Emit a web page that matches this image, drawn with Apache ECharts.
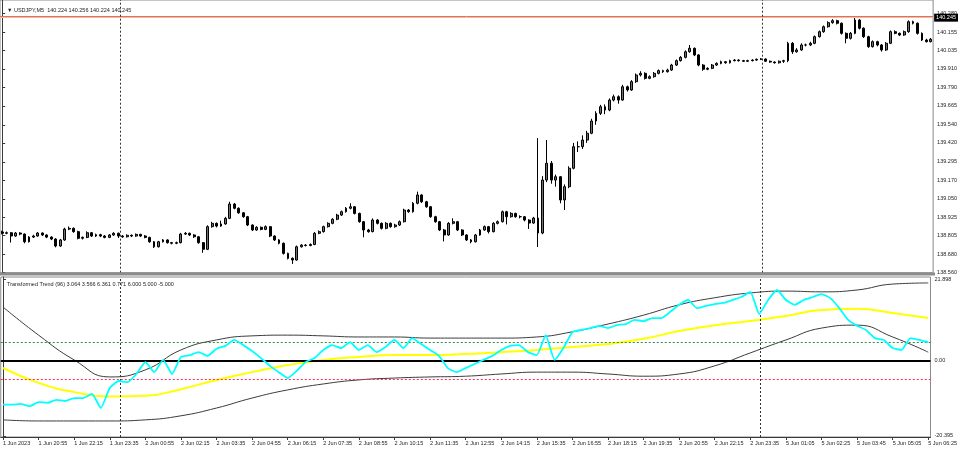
<!DOCTYPE html>
<html><head><meta charset="utf-8">
<script src="https://cdn.jsdelivr.net/npm/echarts@6/dist/echarts.min.js"></script>
<style>html,body{margin:0;padding:0;background:#fff}#c{width:960px;height:451px}</style>
</head><body><div id="c"></div>
<script>
// ---- price axis tick labels (MT4 style) ----
const priceTicks = [138.560,138.680,138.805,138.925,139.050,139.170,139.295,139.420,139.540,139.665,139.790,139.910,140.035,140.155,140.280];
// ---- time axis labels, one every 8 bars ----
const xTickLabels = ['1 Jun 2023','1 Jun 20:55','1 Jun 22:15','1 Jun 23:35','2 Jun 00:55','2 Jun 02:15','2 Jun 03:35','2 Jun 04:55','2 Jun 06:15','2 Jun 07:35','2 Jun 08:55','2 Jun 10:15','2 Jun 11:35','2 Jun 12:55','2 Jun 14:15','2 Jun 15:35','2 Jun 16:55','2 Jun 18:15','2 Jun 19:35','2 Jun 20:55','2 Jun 22:15','2 Jun 23:35','5 Jun 01:05','5 Jun 02:25','5 Jun 03:45','5 Jun 05:05','5 Jun 06:25'];
const BARS_PER_LABEL = 8;
// ---- USDJPY candles ----
const open = [
138.830,138.821,138.825,138.803,138.823,138.816,138.765,138.796,138.803,138.823,
138.810,138.796,138.783,138.737,138.777,138.849,138.854,138.832,138.788,138.794,
138.825,138.803,138.812,138.803,138.794,138.810,138.821,138.803,138.798,138.808,
138.803,138.814,138.803,138.794,138.765,138.732,138.765,138.777,138.759,138.755,
138.759,138.816,138.821,138.810,138.798,138.759,138.715,138.865,138.887,138.869,
138.883,138.920,139.015,138.987,138.957,138.931,138.876,138.843,138.861,138.847,
138.865,138.803,138.777,138.755,138.688,138.655,138.644,138.732,138.743,138.740,
138.747,138.821,138.832,138.865,138.887,138.914,138.942,138.964,138.987,138.997,
138.953,138.898,138.843,138.832,138.909,138.887,138.854,138.887,138.865,138.876,
138.898,138.975,138.964,139.020,139.075,139.030,138.997,138.931,138.898,138.843,
138.810,138.887,138.898,138.843,138.810,138.777,138.765,138.810,138.843,138.865,
138.832,138.887,138.898,138.964,138.931,138.953,138.931,138.931,138.909,138.889,
138.922,138.823,139.174,139.285,139.174,139.196,139.042,139.130,139.252,139.395,
139.395,139.439,139.484,139.565,139.616,139.660,139.638,139.704,139.726,139.704,
139.792,139.771,139.826,139.870,139.881,139.848,139.859,139.881,139.899,139.892,
139.903,139.936,139.965,139.987,140.024,140.047,140.003,139.936,139.908,139.914,
139.936,139.947,139.958,139.951,139.965,139.969,139.965,139.961,139.965,139.969,
139.974,139.976,139.961,139.956,139.951,139.961,139.965,140.080,140.024,140.036,
140.069,140.069,140.080,140.124,140.157,140.190,140.217,140.230,140.213,140.146,
140.113,140.146,140.234,140.180,140.124,140.058,140.091,140.069,140.036,140.080,
140.157,140.146,140.135,140.157,140.223,140.213,140.146,140.102,140.091];
const high = [
138.838,138.833,138.829,138.830,138.828,138.820,138.802,138.811,138.829,138.827,
138.815,138.801,138.788,138.784,138.858,138.866,138.860,138.838,138.800,138.834,
138.830,138.819,138.818,138.809,138.816,138.828,138.826,138.809,138.814,138.813,
138.820,138.818,138.809,138.798,138.770,138.771,138.783,138.781,138.764,138.766,
138.824,138.829,138.826,138.815,138.802,138.763,138.874,138.897,138.893,138.905,
138.930,139.030,139.022,138.993,138.962,138.936,138.880,138.868,138.866,138.873,
138.869,138.808,138.782,138.760,138.693,138.662,138.740,138.750,138.749,138.754,
138.829,138.840,138.872,138.894,138.921,138.950,138.972,138.995,139.020,139.002,
138.958,138.903,138.850,138.920,138.915,138.893,138.895,138.893,138.884,138.906,
138.984,138.982,139.028,139.097,139.080,139.036,139.002,138.937,138.903,138.850,
138.895,138.920,138.903,138.848,138.815,138.783,138.817,138.850,138.873,138.870,
138.895,138.906,138.972,138.970,138.961,138.958,138.940,138.936,138.914,138.930,
139.452,139.200,139.439,139.300,139.210,139.200,139.145,139.265,139.420,139.430,
139.470,139.500,139.580,139.630,139.672,139.675,139.715,139.740,139.735,139.805,
139.800,139.836,139.880,139.895,139.888,139.868,139.890,139.907,139.905,139.912,
139.944,139.973,139.995,140.033,140.069,140.052,140.008,139.942,139.921,139.943,
139.954,139.965,139.963,139.971,139.975,139.974,139.970,139.971,139.974,139.979,
139.982,139.980,139.966,139.960,139.966,139.971,140.090,140.088,140.048,140.080,
140.078,140.090,140.132,140.165,140.198,140.226,140.240,140.236,140.218,140.152,
140.155,140.261,140.240,140.186,140.130,140.099,140.097,140.075,140.088,140.165,
140.166,140.152,140.165,140.232,140.230,140.218,140.152,140.110,140.115];
const low = [
138.814,138.815,138.760,138.798,138.808,138.755,138.760,138.790,138.798,138.803,
138.789,138.776,138.728,138.731,138.771,138.842,138.825,138.781,138.780,138.789,
138.797,138.797,138.796,138.788,138.789,138.804,138.790,138.791,138.793,138.796,
138.798,138.797,138.788,138.758,138.724,138.727,138.760,138.753,138.748,138.749,
138.754,138.810,138.803,138.791,138.752,138.692,138.710,138.858,138.860,138.864,
138.878,138.915,138.980,138.950,138.924,138.869,138.836,138.838,138.841,138.842,
138.796,138.770,138.748,138.680,138.648,138.618,138.640,138.726,138.734,138.735,
138.742,138.815,138.826,138.859,138.881,138.908,138.936,138.958,138.980,138.946,
138.891,138.795,138.825,138.828,138.880,138.846,138.848,138.858,138.858,138.870,
138.893,138.957,138.958,139.013,139.022,138.990,138.924,138.891,138.836,138.767,
138.805,138.880,138.836,138.803,138.770,138.755,138.760,138.805,138.838,138.820,
138.827,138.880,138.893,138.880,138.925,138.924,138.920,138.900,138.850,138.884,
138.730,138.815,139.160,139.150,139.130,139.020,138.975,139.120,139.245,139.360,
139.380,139.420,139.478,139.540,139.605,139.610,139.630,139.695,139.680,139.700,
139.760,139.765,139.818,139.860,139.840,139.842,139.852,139.874,139.884,139.886,
139.897,139.930,139.959,139.980,140.018,139.995,139.928,139.898,139.902,139.909,
139.930,139.941,139.945,139.946,139.960,139.959,139.956,139.956,139.960,139.964,
139.969,139.956,139.951,139.946,139.946,139.950,139.955,140.010,140.018,140.030,
140.060,140.062,140.074,140.118,140.150,140.184,140.210,140.205,140.138,140.080,
140.105,140.140,140.172,140.116,140.050,140.052,140.060,140.025,140.030,140.075,
140.140,140.128,140.130,140.150,140.205,140.138,140.095,140.085,140.086];
const close = [
138.821,138.825,138.803,138.823,138.816,138.765,138.796,138.803,138.823,138.810,
138.796,138.783,138.737,138.777,138.849,138.854,138.832,138.788,138.794,138.825,
138.803,138.812,138.803,138.794,138.810,138.821,138.803,138.798,138.808,138.803,
138.814,138.803,138.794,138.765,138.732,138.765,138.777,138.759,138.755,138.759,
138.816,138.821,138.810,138.798,138.759,138.715,138.865,138.887,138.869,138.883,
138.920,139.015,138.987,138.957,138.931,138.876,138.843,138.861,138.847,138.865,
138.803,138.777,138.755,138.688,138.655,138.644,138.732,138.743,138.740,138.747,
138.821,138.832,138.865,138.887,138.914,138.942,138.964,138.987,138.997,138.953,
138.898,138.843,138.832,138.909,138.887,138.854,138.887,138.865,138.876,138.898,
138.975,138.964,139.020,139.075,139.030,138.997,138.931,138.898,138.843,138.810,
138.887,138.898,138.843,138.810,138.777,138.765,138.810,138.843,138.865,138.832,
138.887,138.898,138.964,138.931,138.953,138.931,138.931,138.909,138.889,138.922,
138.823,139.174,139.285,139.174,139.196,139.042,139.130,139.252,139.395,139.395,
139.439,139.484,139.565,139.616,139.660,139.638,139.704,139.726,139.704,139.792,
139.771,139.826,139.870,139.881,139.848,139.859,139.881,139.899,139.892,139.903,
139.936,139.965,139.987,140.024,140.047,140.003,139.936,139.908,139.914,139.936,
139.947,139.958,139.951,139.965,139.969,139.965,139.961,139.965,139.969,139.974,
139.976,139.961,139.956,139.951,139.961,139.965,140.080,140.024,140.036,140.069,
140.069,140.080,140.124,140.157,140.190,140.217,140.230,140.213,140.146,140.113,
140.146,140.234,140.180,140.124,140.058,140.091,140.069,140.036,140.080,140.157,
140.146,140.135,140.157,140.223,140.213,140.146,140.102,140.091,140.107];
const askPrice = 140.262, bidPrice = 140.251, bidText = '140.245';
const dayBreaks = [26.43, 170.15];   // bar positions of 2 Jun 00:00 and 5 Jun 00:00
// ---- Transformed Trend (96) indicator ----
const BAND_STEP = 8;   // one value every 8 bars
const bandUpper = [14.4,6.8,0.1,-4.5,-2.6,2.8,5.5,6.6,6.8,6.6,6.3,6.3,6.0,6.0,6.0,6.3,7.7,9.8,12.2,15.0,16.9,18.2,18.7,18.5,19.0,20.6,20.9];
const bandLower = [-16.1,-16.4,-16.4,-16.4,-16.1,-15.0,-12.9,-10.2,-8.0,-6.4,-5.3,-4.8,-4.5,-4.3,-3.7,-3.2,-3.2,-3.7,-4.3,-3.7,-1.5,2.0,5.5,8.7,9.5,6.3,2.2];
const signalLine = [-2.08,-6.1,-8.6,-9.8,-9.6,-7.8,-5.3,-3.2,-1.3,0.1,0.9,1.4,1.4,1.7,2.2,2.8,3.6,4.4,5.8,7.9,9.5,10.6,12.0,13.6,13.9,12.8,11.4];
const TREND_STEP = 2;  // one value every 2 bars
const trendLine = [-12.0,-12.0,-11.8,-12.4,-11.3,-11.5,-10.7,-11.0,-10.2,-10.2,
-9.1,-12.9,-7.5,-5.6,-5.9,-3.7,-0.5,-3.2,0.1,-3.7,
0.9,1.4,2.2,1.2,3.1,3.9,5.5,4.1,2.5,0.6,
-1.5,-3.2,-4.8,-2.9,-0.5,0.6,2.8,4.1,3.3,4.9,
2.8,4.1,2.2,3.6,5.5,3.3,6.0,4.4,2.8,1.2,
-2.1,-3.2,-2.1,-1.0,0.1,1.2,2.8,3.9,4.1,2.2,
1.4,6.8,0.1,3.3,7.6,8.2,8.7,9.3,8.7,9.5,
9.8,10.9,10.6,11.4,11.4,13.1,15.0,16.3,14.1,14.7,
15.2,15.5,16.3,17.1,18.5,12.5,16.3,19.0,16.3,15.0,
16.3,17.1,17.9,16.8,14.1,10.9,9.3,8.2,6.0,5.5,
3.3,2.8,6.0,5.5,4.9];
const levelZero = 0, levelUp = 5, levelDown = -5;
const indTicks = [21.898, 0, -20.395];
const indTickText = ['21.898', '0.00', '-20.395'];
const indTitle = 'Transformed Trend (96) 3.064 3.566 6.361 0.771 6.000 5.000 -5.000';
const mainTitle = '\u25BC USDJPY,M5  140.224 140.256 140.224 140.245';

const FONT = "'Liberation Sans', Arial, sans-serif";
const TXT = {fontFamily: FONT, fontSize: 5.5, color: '#1c1c1c'};
const nBars = close.length;
const xTickIdx = xTickLabels.map((_, k) => k * BARS_PER_LABEL);
const dotted = [2, 2];

function levelSeries(value, color, width, type, z) {
  return {type: 'line', xAxisIndex: 2, yAxisIndex: 1, data: [], silent: true, z: z,
    markLine: {silent: true, symbol: 'none', label: {show: false}, animation: false,
      lineStyle: {color: color, width: width, type: type, opacity: 1},
      data: [{yAxis: value}]}};
}

const chart = echarts.init(document.getElementById('c'), null, {renderer: 'canvas'});
chart.setOption({
  animation: false,
  backgroundColor: '#ffffff',
  title: [
    {text: mainTitle, left: 2, top: 2, textStyle: Object.assign({fontWeight: 'normal'}, TXT)},
    {text: indTitle, left: 2, top: 276.5, textStyle: Object.assign({fontWeight: 'normal'}, TXT)}
  ],
  grid: [
    {left: 0, right: 25, top: 0, height: 272.7, show: true, borderColor: '#8a8a8a', borderWidth: 1, backgroundColor: '#fff'},
    {left: 0, right: 25, top: 277, height: 160, show: true, borderColor: '#8a8a8a', borderWidth: 1}
  ],
  graphic: [
    {type: 'rect', shape: {x: 0, y: 272.5, width: 935, height: 3}, style: {fill: '#8c8c8c'}, silent: true, z: 10}
  ],
  xAxis: [
    {type: 'category', gridIndex: 0, data: close.map((_, i) => String(i)), boundaryGap: true, show: false},
    {type: 'value', gridIndex: 0, min: -0.5, max: nBars - 0.5, show: false},
    {type: 'value', gridIndex: 1, min: -0.5, max: nBars - 0.5, splitLine: {show: false},
      axisLine: {show: true, onZero: false, lineStyle: {color: '#3a3a3a', width: 1}},
      axisTick: {show: true, customValues: xTickIdx, length: 3, lineStyle: {color: '#3a3a3a'}},
      axisLabel: Object.assign({customValues: xTickIdx, align: 'left', margin: 3,
        formatter: v => xTickLabels[Math.round(v / BARS_PER_LABEL)] || ''}, TXT)}
  ],
  yAxis: [
    {type: 'value', gridIndex: 0, position: 'right', min: 138.560, max: 140.367, scale: true,
      splitLine: {show: false},
      axisLine: {show: true, lineStyle: {color: '#3a3a3a'}},
      axisTick: {show: true, customValues: priceTicks, length: 3, lineStyle: {color: '#3a3a3a'}},
      axisLabel: Object.assign({customValues: priceTicks, margin: 4, formatter: v => v.toFixed(3)}, TXT)},
    {type: 'value', gridIndex: 1, position: 'right', min: -20.73, max: 22.51,
      splitLine: {show: false},
      axisLine: {show: true, lineStyle: {color: '#3a3a3a'}},
      axisTick: {show: true, customValues: indTicks, length: 3, lineStyle: {color: '#3a3a3a'}},
      axisLabel: Object.assign({customValues: indTicks, margin: 4,
        formatter: v => { const k = indTicks.findIndex(t => Math.abs(t - v) < 1e-6); return k >= 0 ? indTickText[k] : ''; }}, TXT)}
  ],
  series: [
    {type: 'candlestick', xAxisIndex: 0, yAxisIndex: 0, barWidth: 2.4,
      data: close.map((c, i) => [open[i], c, low[i], high[i]]),
      itemStyle: {color: '#707070', color0: '#000000', borderColor: '#000000', borderColor0: '#000000', borderWidth: 1},
      emphasis: {disabled: true},
      markLine: {silent: true, symbol: 'none', animation: false,
        data: [
          {yAxis: askPrice, lineStyle: {color: '#e27058', width: 1, type: 'solid'}, label: {show: false}},
          {yAxis: bidPrice, lineStyle: {color: '#f3b9aa', width: 1, type: 'solid'},
            label: {show: true, position: 'end', formatter: bidText, distance: 1, backgroundColor: '#000', color: '#fff',
              padding: [1, 2, 1, 2], fontSize: 5.5, fontFamily: FONT}}
        ]}},
    {type: 'line', xAxisIndex: 1, yAxisIndex: 0, data: [], silent: true,
      markLine: {silent: true, symbol: 'none', label: {show: false}, animation: false,
        lineStyle: {color: '#333', type: dotted, width: 1},
        data: dayBreaks.map(x => ({xAxis: x}))}},
    levelSeries(levelZero, '#000000', 2, 'solid', 2),
    levelSeries(levelUp, '#2f8f3f', 1, dotted, 2),
    levelSeries(levelDown, '#ff2a55', 1, dotted, 2),
    {type: 'line', xAxisIndex: 2, yAxisIndex: 1, data: [], silent: true, z: 2,
      markLine: {silent: true, symbol: 'none', label: {show: false}, animation: false,
        lineStyle: {color: '#333', type: dotted, width: 1},
        data: dayBreaks.map(x => ({xAxis: x}))}},
    {type: 'line', name: 'upper', xAxisIndex: 2, yAxisIndex: 1, smooth: true, symbol: 'none',
      data: bandUpper.map((v, k) => [k * BAND_STEP, v]), lineStyle: {color: '#3c3c3c', width: 1}, z: 3},
    {type: 'line', name: 'lower', xAxisIndex: 2, yAxisIndex: 1, smooth: true, symbol: 'none',
      data: bandLower.map((v, k) => [k * BAND_STEP, v]), lineStyle: {color: '#3c3c3c', width: 1}, z: 3},
    {type: 'line', name: 'signal', xAxisIndex: 2, yAxisIndex: 1, smooth: true, symbol: 'none',
      data: signalLine.map((v, k) => [k * BAND_STEP, v]), lineStyle: {color: '#ffff00', width: 2}, z: 4},
    {type: 'line', name: 'trend', xAxisIndex: 2, yAxisIndex: 1, smooth: 0.15, symbol: 'none',
      data: trendLine.map((v, k) => [k * TREND_STEP, v]), lineStyle: {color: '#00ffff', width: 1.8}, z: 5}
  ]
});
</script></body></html>
